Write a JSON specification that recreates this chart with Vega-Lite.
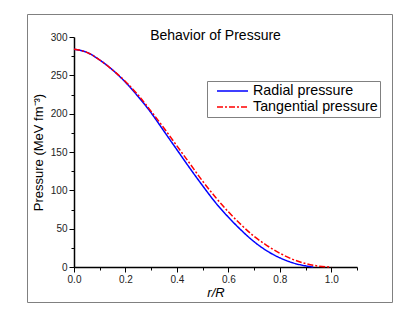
{
  "$schema": "https://vega.github.io/schema/vega-lite/v6.json",
  "width": 365,
  "height": 288,
  "autosize": {"type": "none"},
  "padding": {"left": 27, "top": 14, "right": 23, "bottom": 19},
  "background": "white",
  "config": {
    "view": {"stroke": "#808080", "strokeWidth": 1},
    "font": "Liberation Sans"
  },
  "title": {
    "text": "Behavior of Pressure",
    "font": "Liberation Sans",
    "fontSize": 14,
    "fontWeight": "normal",
    "color": "#000000",
    "anchor": "middle",
    "frame": "group",
    "orient": "top",
    "dx": 6,
    "offset": -43,
    "baseline": "bottom"
  },
  "data": {
    "values": [
      {"r": 0.00, "p": 284, "type": "Radial pressure"},
      {"r": 0.05, "p": 280, "type": "Radial pressure"},
      {"r": 0.10, "p": 270, "type": "Radial pressure"},
      {"r": 0.15, "p": 257, "type": "Radial pressure"},
      {"r": 0.20, "p": 241, "type": "Radial pressure"},
      {"r": 0.25, "p": 222, "type": "Radial pressure"},
      {"r": 0.30, "p": 201, "type": "Radial pressure"},
      {"r": 0.35, "p": 177, "type": "Radial pressure"},
      {"r": 0.40, "p": 153, "type": "Radial pressure"},
      {"r": 0.45, "p": 129, "type": "Radial pressure"},
      {"r": 0.50, "p": 106, "type": "Radial pressure"},
      {"r": 0.55, "p": 84, "type": "Radial pressure"},
      {"r": 0.60, "p": 65, "type": "Radial pressure"},
      {"r": 0.65, "p": 48, "type": "Radial pressure"},
      {"r": 0.70, "p": 33, "type": "Radial pressure"},
      {"r": 0.75, "p": 21, "type": "Radial pressure"},
      {"r": 0.80, "p": 12, "type": "Radial pressure"},
      {"r": 0.85, "p": 5.5, "type": "Radial pressure"},
      {"r": 0.90, "p": 1.5, "type": "Radial pressure"},
      {"r": 0.93, "p": 0, "type": "Radial pressure"},
      {"r": 0.00, "p": 284, "type": "Tangential pressure"},
      {"r": 0.05, "p": 280, "type": "Tangential pressure"},
      {"r": 0.10, "p": 270, "type": "Tangential pressure"},
      {"r": 0.15, "p": 257, "type": "Tangential pressure"},
      {"r": 0.20, "p": 242, "type": "Tangential pressure"},
      {"r": 0.25, "p": 224, "type": "Tangential pressure"},
      {"r": 0.30, "p": 203, "type": "Tangential pressure"},
      {"r": 0.35, "p": 181, "type": "Tangential pressure"},
      {"r": 0.40, "p": 158, "type": "Tangential pressure"},
      {"r": 0.45, "p": 135, "type": "Tangential pressure"},
      {"r": 0.50, "p": 112, "type": "Tangential pressure"},
      {"r": 0.55, "p": 91, "type": "Tangential pressure"},
      {"r": 0.60, "p": 72, "type": "Tangential pressure"},
      {"r": 0.65, "p": 55, "type": "Tangential pressure"},
      {"r": 0.70, "p": 40, "type": "Tangential pressure"},
      {"r": 0.75, "p": 28, "type": "Tangential pressure"},
      {"r": 0.80, "p": 18, "type": "Tangential pressure"},
      {"r": 0.85, "p": 10, "type": "Tangential pressure"},
      {"r": 0.90, "p": 4.5, "type": "Tangential pressure"},
      {"r": 0.95, "p": 1.2, "type": "Tangential pressure"},
      {"r": 1.00, "p": 0, "type": "Tangential pressure"}
    ]
  },
  "mark": {"type": "line", "strokeWidth": 1.5, "interpolate": "monotone"},
  "encoding": {
    "x": {
      "field": "r",
      "type": "quantitative",
      "scale": {"domain": [0, 1.1], "range": [47, 330], "nice": false, "zero": false},
      "axis": {
        "orient": "bottom",
        "offset": -35,
        "title": "r/R",
        "titleFontStyle": "italic",
        "titleFontWeight": "normal",
        "titleFontSize": 13,
        "titleColor": "#000000",
        "titlePadding": 2,
        "values": [0, 0.1, 0.2, 0.3, 0.4, 0.5, 0.6, 0.7, 0.8, 0.9, 1.0, 1.1],
        "labelExpr": "round(datum.value*10) % 2 == 0 && datum.value < 1.05 ? format(datum.value, '.1f') : ''",
        "labelFontSize": 10,
        "labelColor": "#222222",
        "labelPadding": 2,
        "labelFlush": false,
        "labelOverlap": false,
        "tickSize": {"condition": {"test": "round(datum.value*10) % 2 == 0", "value": 5}, "value": 3},
        "tickColor": "#000000",
        "tickWidth": 1,
        "domainColor": "#000000",
        "domainWidth": 1.5,
        "grid": false
      }
    },
    "y": {
      "field": "p",
      "type": "quantitative",
      "scale": {"domain": [0, 300], "range": [253, 23], "nice": false, "zero": false},
      "axis": {
        "orient": "left",
        "offset": -47,
        "title": "Pressure (MeV fm⁻³)",
        "titleFontWeight": "normal",
        "titleFontSize": 13,
        "titleColor": "#000000",
        "titlePadding": 5,
        "values": [0, 25, 50, 75, 100, 125, 150, 175, 200, 225, 250, 275, 300],
        "labelExpr": "datum.value % 50 == 0 ? datum.label : ''",
        "labelFontSize": 10,
        "labelColor": "#222222",
        "labelPadding": 2,
        "labelFlush": false,
        "labelOverlap": false,
        "tickSize": {"condition": {"test": "datum.value % 50 == 0", "value": 5}, "value": 3},
        "tickColor": "#000000",
        "tickWidth": 1,
        "domainColor": "#000000",
        "domainWidth": 1.5,
        "grid": false
      }
    },
    "color": {
      "field": "type",
      "type": "nominal",
      "scale": {"domain": ["Radial pressure", "Tangential pressure"], "range": ["#0000ff", "#ff0000"]},
      "legend": {
        "title": null,
        "orient": "none",
        "legendX": 180,
        "legendY": 67,
        "strokeColor": "#808080",
        "padding": 2,
        "symbolType": "M0,0H4.43",
        "symbolSize": 196,
        "symbolStrokeWidth": 1.5,
        "labelFontSize": 14.3,
        "labelColor": "#000000",
        "labelFont": "Liberation Sans",
        "rowPadding": 0,
        "labelOffset": 28
      }
    },
    "strokeDash": {
      "field": "type",
      "type": "nominal",
      "scale": {"domain": ["Radial pressure", "Tangential pressure"], "range": [[1, 0], [6, 2, 2, 2]]},
      "legend": {
        "title": null,
        "orient": "none",
        "legendX": 180,
        "legendY": 67,
        "strokeColor": "#808080",
        "padding": 2,
        "symbolType": "M0,0H4.43",
        "symbolSize": 196,
        "symbolStrokeWidth": 1.5,
        "labelFontSize": 14.3,
        "labelColor": "#000000",
        "labelFont": "Liberation Sans",
        "rowPadding": 0,
        "labelOffset": 28
      }
    }
  }
}
